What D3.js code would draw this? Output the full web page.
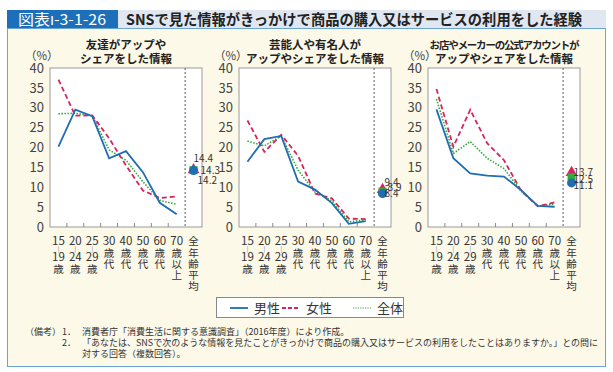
<!DOCTYPE html>
<html lang="ja">
<head>
<meta charset="utf-8">
<script src="https://cdn.jsdelivr.net/npm/d3@7"></script>
<style>
  body { margin: 0; background: #fff; }
  svg { display: block; font-family: "Noto Sans CJK JP", "Noto Sans", sans-serif; }
</style>
</head>
<body>
<svg width="613" height="372"></svg>
<script>
// SNSで見た情報がきっかけで商品の購入又はサービスの利用をした経験 (図表Ⅰ-3-1-26)

const ageGroups = ["15～19歳", "20～24歳", "25～29歳", "30歳代", "40歳代", "50歳代", "60歳代", "70歳以上"];
const avgLabel = "全年齢平均";
const tickLabelRows = [
  ["15", "|", "19", "歳"],
  ["20", "|", "24", "歳"],
  ["25", "|", "29", "歳"],
  ["30", "歳", "代"],
  ["40", "歳", "代"],
  ["50", "歳", "代"],
  ["60", "歳", "代"],
  ["70", "歳", "以", "上"],
  ["全", "年", "齢", "平", "均"],
];
const yTicks = [0, 5, 10, 15, 20, 25, 30, 35, 40];

const panelTitles = [
  ["友達がアップや", "シェアをした情報"],
  ["芸能人や有名人が", "アップやシェアをした情報"],
  ["お店やメーカーの公式アカウントが", "アップやシェアをした情報"],
];

// 男性 / 女性 / 全体, one row per panel
const maleValues = [
  [20.2, 29.5, 27.9, 17.3, 19.1, 13.8, 6.1, 3.2],
  [16.4, 22.1, 22.9, 11.4, 9.4, 6.0, 0.8, 1.5],
  [29.6, 17.3, 13.5, 12.9, 12.7, 9.3, 5.3, 5.1],
];
const femaleValues = [
  [37.1, 28.0, 28.1, 22.3, 15.5, 9.2, 7.3, 7.7],
  [26.8, 18.9, 23.2, 17.9, 8.4, 7.2, 2.1, 2.0],
  [34.7, 20.2, 29.5, 21.1, 16.8, 9.2, 5.2, 6.2],
];
const totalValues = [
  [28.5, 28.6, 28.0, 19.4, 16.8, 11.4, 6.7, 5.7],
  [21.6, 20.4, 22.9, 14.3, 8.8, 6.6, 1.3, 1.8],
  [32.2, 18.5, 21.5, 17.3, 14.7, 9.1, 5.3, 5.8],
];
const maleAvg = [14.2, 8.4, 11.1];
const femaleAvg = [14.4, 9.4, 13.7];
const totalAvg = [14.3, 8.9, 12.5];

const seriesNames = ["男性", "女性", "全体"];

const notes = [
  ["（備考）", "1．", "消費者庁「消費生活に関する意識調査」（2016年度）により作成。"],
  ["", "2．", "「あなたは、SNSで次のような情報を見たことがきっかけで商品の購入又はサービスの利用をしたことはありますか。」との問に"],
  ["", "", "対する回答（複数回答）。"],
];

const blue = "#1f6db3";
const red = "#d8235f";
const green = "#35a83a";
const textColor = "#333";

const panelLefts = [50, 239, 428];
const plotWidth = 152;
const plotTop = 68;
const plotBottom = 227;

// where the three average labels sit relative to the markers (dx, dy)
const avgLabelOffsets = [
  { female: [0, -11], total: [7, 0], male: [4, 10] },
  { female: [2, -7], total: [5, -4], male: [2, 0] },
  { female: [2, 0], total: [2, 2], male: [2, 2.5] },
];

const svg = d3.select("svg");

// header
svg.append("rect").attr("x", 7).attr("y", 10).attr("width", 111).attr("height", 18).attr("fill", "#1c6fb8");
svg.append("rect").attr("x", 118).attr("y", 10).attr("width", 488).attr("height", 18).attr("fill", "#e0e7f0");
const figNo = svg
  .append("text")
  .attr("x", 18)
  .attr("y", 25)
  .attr("fill", "#fff")
  .attr("font-size", 15)
  .attr("textLength", 88)
  .attr("lengthAdjust", "spacingAndGlyphs");
figNo.append("tspan").text("図表");
figNo.append("tspan").attr("font-family", "DejaVu Sans").attr("font-size", 13).text("Ⅰ");
figNo.append("tspan").text("-3-1-26");
svg
  .append("text")
  .attr("x", 126)
  .attr("y", 25)
  .attr("fill", "#222")
  .attr("font-size", 15)
  .attr("font-weight", "bold")
  .attr("textLength", 456)
  .attr("lengthAdjust", "spacingAndGlyphs")
  .text("SNSで見た情報がきっかけで商品の購入又はサービスの利用をした経験");

// cream panel
svg
  .append("rect")
  .attr("x", 7.5)
  .attr("y", 28.5)
  .attr("width", 598)
  .attr("height", 338)
  .attr("fill", "#fdf9e9")
  .attr("stroke", "#6aa6d4")
  .attr("stroke-width", 1);

const yScale = d3.scaleLinear().domain([0, 40]).range([plotBottom, plotTop]);

const drawPanel = (p) => {
  const left = panelLefts[p];
  const xScale = d3
    .scaleBand()
    .domain([...ageGroups, avgLabel])
    .range([left, left + plotWidth]);
  const bw = xScale.bandwidth();
  const cx = (d) => xScale(d) + bw / 2;
  const g = svg.append("g");

  g.append("rect")
    .attr("x", left)
    .attr("y", plotTop)
    .attr("width", plotWidth)
    .attr("height", plotBottom - plotTop)
    .attr("fill", "#fff")
    .attr("stroke", "#9a9a9a")
    .attr("stroke-width", 1);

  // y axis labels
  g.selectAll(".ylab")
    .data(yTicks)
    .enter()
    .append("text")
    .attr("x", left - 6)
    .attr("y", (d) => yScale(d))
    .attr("dy", "0.36em")
    .attr("text-anchor", "end")
    .attr("font-size", 13)
    .attr("fill", "#444")
    .text((d) => d);

  g.append("text")
    .attr("x", left - 25)
    .attr("y", 56)
    .attr("dy", "0.35em")
    .attr("font-size", 11.5)
    .attr("fill", "#444")
    .text("（%）");

  // title
  panelTitles[p].forEach((line, i) => {
    const long = line.length > 14;
    g.append("text")
      .attr("x", left + plotWidth / 2)
      .attr("y", 45 + i * 14)
      .attr("dy", "0.35em")
      .attr("text-anchor", "middle")
      .attr("font-size", long ? 10.5 : 11.5)
      .attr("letter-spacing", long ? -1.2 : 0)
      .attr("font-weight", "bold")
      .attr("fill", "#222")
      .text(line);
  });

  // small ticks at band boundaries on the bottom
  g.selectAll(".xtick")
    .data(ageGroups.slice(1))
    .enter()
    .append("line")
    .attr("x1", (d) => xScale(d))
    .attr("x2", (d) => xScale(d))
    .attr("y1", plotBottom)
    .attr("y2", plotBottom - 4)
    .attr("stroke", "#8a8a8a");

  // dotted separator before the average column
  g.append("line")
    .attr("x1", xScale(avgLabel))
    .attr("x2", xScale(avgLabel))
    .attr("y1", plotTop)
    .attr("y2", plotBottom)
    .attr("stroke", "#777")
    .attr("stroke-width", 1.2)
    .attr("stroke-dasharray", "2,2");

  // x tick labels, stacked vertically in one text each
  xScale.domain().forEach((d, i) => {
    const rows = tickLabelRows[i];
    const hasDash = rows[1] === "|";
    const rowY = hasDash ? [241, 249, 257, 269] : [241, 253, 264, 275, 286];
    const t = g
      .append("text")
      .attr("text-anchor", "middle")
      .attr("fill", textColor);
    rows.forEach((r, j) => {
      const isDigit = /\d/.test(r);
      t.append("tspan")
        .attr("x", cx(d))
        .attr("y", rowY[j] + (r === "|" ? 2 : 4))
        .attr("font-size", r === "|" ? 6 : isDigit ? 11.5 : 10.5)
        .attr("fill", r === "|" ? "#777" : textColor)
        .text(r);
    });
  });

  const line = d3
    .line()
    .x((d, i) => cx(ageGroups[i]))
    .y((d) => yScale(d));

  g.append("path")
    .datum(totalValues[p])
    .attr("d", line)
    .attr("fill", "none")
    .attr("stroke", green)
    .attr("stroke-width", 1.6)
    .attr("stroke-dasharray", "1.5,1.5");

  g.append("path")
    .datum(femaleValues[p])
    .attr("d", line)
    .attr("fill", "none")
    .attr("stroke", red)
    .attr("stroke-width", 1.8)
    .attr("stroke-dasharray", "5,3");

  g.append("path")
    .datum(maleValues[p])
    .attr("d", line)
    .attr("fill", "none")
    .attr("stroke", blue)
    .attr("stroke-width", 1.8);

  // averages
  const ax = cx(avgLabel);
  g.append("path")
    .attr("d", d3.symbol(d3.symbolTriangle, 60)())
    .attr("transform", `translate(${ax},${yScale(femaleAvg[p])})`)
    .attr("fill", red);
  g.append("rect")
    .attr("x", ax - 4)
    .attr("y", yScale(totalAvg[p]) - 4)
    .attr("width", 8)
    .attr("height", 8)
    .attr("fill", green);
  g.append("circle")
    .attr("cx", ax)
    .attr("cy", yScale(maleAvg[p]))
    .attr("r", 4.5)
    .attr("fill", blue);

  const off = avgLabelOffsets[p];
  [
    [femaleAvg[p], off.female],
    [totalAvg[p], off.total],
    [maleAvg[p], off.male],
  ].forEach(([v, o]) => {
    g.append("text")
      .attr("x", ax + o[0])
      .attr("y", yScale(v) + o[1])
      .attr("dy", "0.36em")
      .attr("font-size", 10)
      .attr("fill", textColor)
      .text(v.toFixed(1));
  });
};

[0, 1, 2].forEach(drawPanel);

// legend
const legend = svg.append("g");
legend
  .append("rect")
  .attr("x", 216.5)
  .attr("y", 297.5)
  .attr("width", 187)
  .attr("height", 20)
  .attr("fill", "#fff")
  .attr("stroke", "#888");

const legendItems = [
  { name: seriesNames[0], color: blue, dash: null, x: 230 },
  { name: seriesNames[1], color: red, dash: "4,2", x: 282 },
  { name: seriesNames[2], color: green, dash: "1.2,1.2", x: 353 },
];
legendItems.forEach((d) => {
  legend
    .append("line")
    .attr("x1", d.x)
    .attr("x2", d.x + 18)
    .attr("y1", 308)
    .attr("y2", 308)
    .attr("stroke", d.color)
    .attr("stroke-width", d.dash === "1.2,1.2" ? 1.2 : 1.8)
    .attr("stroke-dasharray", d.dash);
  legend
    .append("text")
    .attr("x", d.x + 24)
    .attr("y", 308)
    .attr("dy", "0.36em")
    .attr("font-size", 13)
    .attr("fill", textColor)
    .text(d.name);
});

// notes
const noteYs = [332, 343, 354];
notes.forEach((row, i) => {
  [25, 62, 82].forEach((x, j) => {
    if (!row[j]) return;
    svg
      .append("text")
      .attr("x", x)
      .attr("y", noteYs[i])
      .attr("dy", "0.36em")
      .attr("font-size", 9)
      .attr("fill", textColor)
      .text(row[j]);
  });
});
</script>
</body>
</html>
